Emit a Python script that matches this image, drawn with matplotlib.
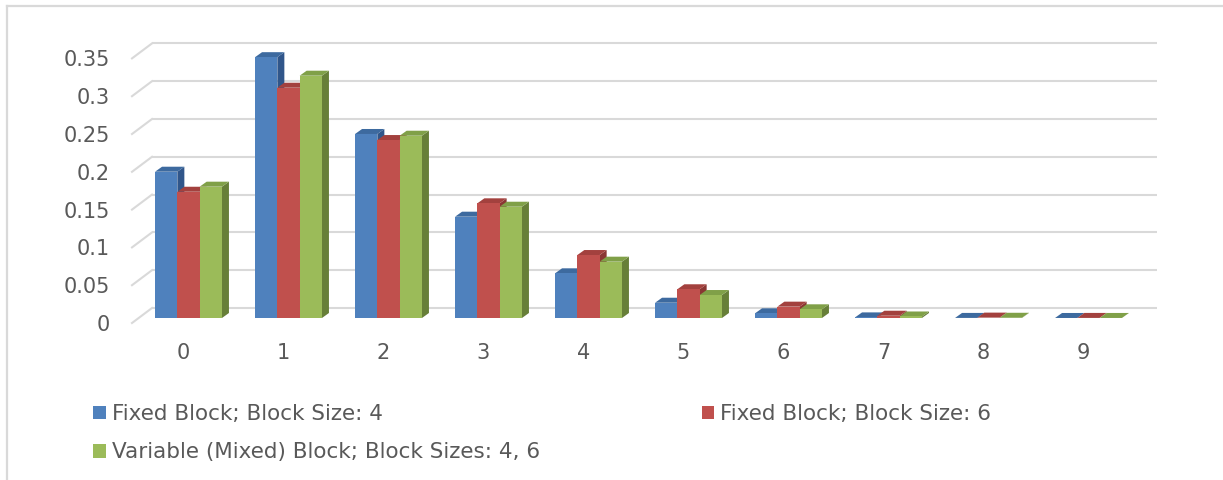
import matplotlib
matplotlib.use("Agg")
import matplotlib.pyplot as plt
from matplotlib.lines import Line2D
from matplotlib.patches import Patch
from matplotlib.transforms import ScaledTranslation, blended_transform_factory
import numpy as np

# ---- data -------------------------------------------------------------
categories = ["0", "1", "2", "3", "4", "5", "6", "7", "8", "9"]
fixed_4 = [0.1935, 0.345, 0.2434, 0.134, 0.0591, 0.0202, 0.0062, 0.0008, 0.0001, 0.00002]
fixed_6 = [0.167, 0.3046, 0.2354, 0.1517, 0.0833, 0.038, 0.015, 0.003, 0.0005, 0.0001]
mixed_46 = [0.1737, 0.3205, 0.2411, 0.1472, 0.0745, 0.0304, 0.0115, 0.002, 0.0003, 0.00005]
series_names = ["Fixed Block; Block Size: 4",
                "Fixed Block; Block Size: 6",
                "Variable (Mixed) Block; Block Sizes: 4, 6"]
y_ticks = [0, 0.05, 0.1, 0.15, 0.2, 0.25, 0.3, 0.35]
y_tick_labels = ["0", "0.05", "0.1", "0.15", "0.2", "0.25", "0.3", "0.35"]

# ---- style ------------------------------------------------------------
FONT = "DejaVu Sans"
FS = 15
FS_LEG = 15.5
TEXT = "#595959"
GRID = "#d9d9d9"
front_cols = ["#4f81bd", "#c0504d", "#9bbb59"]
top_cols = ["#3d6a9f", "#a3413e", "#80a048"]
side_cols = ["#30568a", "#8a3633", "#677f38"]

DPI = 100
W, H = 1223, 480
fig = plt.figure(figsize=(W / DPI, H / DPI), dpi=DPI)
fig.patch.set_facecolor("white")

# plot area in pixels (left, right, top, bottom)
PL, PR, PT, PB = 130, 1160, 30, 330
ax = fig.add_axes([PL / W, 1 - PB / H, (PR - PL) / W, (PB - PT) / H])
ax.set_axis_off()

x = np.arange(len(categories))
ax.set_xlim(-0.585, 9.715)
ax.set_ylim(-12 / 756, 288 / 756)

bar_w = 0.223
offsets = [-bar_w, 0.0, bar_w]
series = [fixed_4, fixed_6, mixed_46]

# depth of the columns (pixels -> data units)
depth_px = (7, 5)
dx = depth_px[0] * (ax.get_xlim()[1] - ax.get_xlim()[0]) / (PR - PL)
dy = depth_px[1] * (ax.get_ylim()[1] - ax.get_ylim()[0]) / (PB - PT)

# ---- back wall gridlines with side-wall slant -------------------------
px = lambda p: p / DPI
back_tr = ax.transData + ScaledTranslation(0, px(10), fig.dpi_scale_trans)
blend_back = blended_transform_factory(ax.transAxes, back_tr)
wall_l = (152 - PL) / (PR - PL)
wall_r = (1157 - PL) / (PR - PL)
side_l = (132 - PL) / (PR - PL)
for v in y_ticks:
    ax.plot([wall_l, wall_r], [v, v], color=GRID, lw=1.5, transform=blend_back,
            zorder=0, solid_capstyle="butt")
    # slanted segment on the side wall: 15 px lower at its front edge
    y_back = back_tr.transform((0, v))[1]
    y_front = y_back - 15
    x0 = ax.transAxes.transform((side_l, 0))[0]
    x1 = ax.transAxes.transform((wall_l, 0))[0]
    ax.add_line(Line2D([x0, x1], [y_front, y_back], color=GRID, lw=1.5,
                       transform=None, zorder=0))

# ---- 3-D looking columns ----------------------------------------------
for xi in x:
    for s, (vals, off) in enumerate(zip(series, offsets)):
        v = vals[xi]
        xl = xi + off - bar_w / 2
        xr = xi + off + bar_w / 2
        # right side face
        ax.fill([xr, xr + dx, xr + dx, xr], [0, dy, v + dy, v],
                color=side_cols[s], lw=0, zorder=2)
        # top face
        ax.fill([xl, xr, xr + dx, xl + dx], [v, v, v + dy, v + dy],
                color=top_cols[s], lw=0, zorder=2)
        # front face
        ax.bar(xi + off, v, width=bar_w, color=front_cols[s], lw=0, zorder=2)

# ---- tick labels ------------------------------------------------------
ylab_tr = blended_transform_factory(ax.transAxes, ax.transData) + \
    ScaledTranslation(0, px(-7), fig.dpi_scale_trans)
for v, lab in zip(y_ticks, y_tick_labels):
    ax.text((110 - PL) / (PR - PL), v, lab, transform=ylab_tr, ha="right",
            va="center", fontsize=FS, color=TEXT, family=FONT)

xlab_tr = ax.transData + ScaledTranslation(px(-5), px(-35), fig.dpi_scale_trans)
for xi, lab in zip(x, categories):
    ax.text(xi, 0, lab, transform=xlab_tr, ha="center", va="center",
            fontsize=FS, color=TEXT, family=FONT)

# ---- legend -----------------------------------------------------------
handles = [Patch(facecolor=c, edgecolor="none") for c in front_cols]
order = [0, 2, 1]
leg = fig.legend([handles[i] for i in order], [series_names[i] for i in order],
                 ncol=2, loc="upper left", bbox_to_anchor=(93 / W, 1 - 404 / H),
                 frameon=False, borderpad=0, borderaxespad=0,
                 handlelength=0.6, handleheight=0.6,
                 handletextpad=0.28, columnspacing=7.5, labelspacing=0.85,
                 prop={"family": FONT, "size": FS_LEG})
for t in leg.get_texts():
    t.set_color(TEXT)

# ---- outer chart border -----------------------------------------------
fig.add_artist(Line2D([7 / W, 7 / W], [0, 1 - 6 / H], color=GRID, lw=1.6,
                      transform=fig.transFigure))
fig.add_artist(Line2D([7 / W, 1], [1 - 6 / H, 1 - 6 / H], color=GRID, lw=1.6,
                      transform=fig.transFigure))

fig.savefig("out.png", dpi=DPI, facecolor="white")
